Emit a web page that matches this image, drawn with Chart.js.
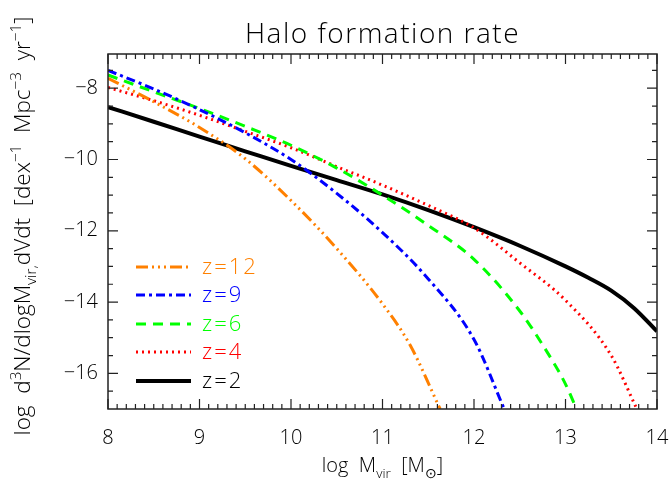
<!DOCTYPE html>
<html>
<head>
<meta charset="utf-8">
<script src="https://cdn.jsdelivr.net/npm/chart.js@4.4.1/dist/chart.umd.min.js"></script>
<style>
  html, body { margin: 0; padding: 0; background: #fff; }
</style>
</head>
<body>
<canvas id="chart" width="670" height="481"></canvas>
<script>
// halo formation rate, log d3N/dlogM dV dt, per redshift
var massZ12 = [8, 8.5, 9, 9.5, 10, 10.5, 11, 11.3, 11.63];
var rateZ12 = [-7.72, -8.38, -9.1, -9.98, -11.15, -12.5, -14.05, -15.2, -17];

var massZ9 = [8, 8.5, 9, 9.5, 10, 10.5, 11, 11.5, 12, 12.33];
var rateZ9 = [-7.5, -8.02, -8.6, -9.25, -10.0, -10.95, -12.05, -13.35, -15.05, -17];

var massZ6 = [8, 8.5, 9, 9.5, 10, 10.5, 11, 11.5, 12, 12.5, 12.75, 13, 13.12];
var rateZ6 = [-7.63, -8.1, -8.57, -9.07, -9.6, -10.24, -11.0, -11.85, -12.8, -14.25, -15.2, -16.3, -17];

var massZ4 = [8, 8.5, 9, 9.5, 10, 10.5, 11, 11.5, 12, 12.5, 13, 13.5, 13.78];
var rateZ4 = [-7.98, -8.35, -8.76, -9.21, -9.67, -10.2, -10.72, -11.29, -11.92, -12.9, -13.95, -15.5, -17];

var massZ2 = [8, 8.5, 9, 9.5, 10, 10.5, 11, 11.5, 12, 12.5, 13, 13.25, 13.5, 13.75, 14];
var rateZ2 = [-8.53, -8.94, -9.36, -9.77, -10.18, -10.58, -10.98, -11.42, -11.9, -12.42, -13.0, -13.32, -13.68, -14.17, -14.82];

var seriesLabels = ['z=12', 'z=9', 'z=6', 'z=4', 'z=2'];
var xTicks = [8, 9, 10, 11, 12, 13, 14];
var yTicks = [-16, -14, -12, -10, -8];

var FONT = '"Open Sans", "DejaVu Sans", sans-serif';

function pts(xs, ys) {
    return xs.map(function(x, i) { return {x: x, y: ys[i]}; });
}
function minus(v) {
    return v < 0 ? '\u2212' + Math.abs(v) : '' + v;
}

var styles = [
    {color: 'rgb(255,128,0)', width: 3, dash: [12, 4, 2, 4, 2, 4, 2, 4]},
    {color: 'rgb(0,0,255)',   width: 3, dash: [9, 4, 3, 4]},
    {color: 'rgb(0,255,0)',   width: 3, dash: [10, 7]},
    {color: 'rgb(255,0,0)',   width: 3, dash: [2, 4]},
    {color: 'rgb(0,0,0)',     width: 4, dash: []}
];
var sets = [pts(massZ12, rateZ12), pts(massZ9, rateZ9), pts(massZ6, rateZ6), pts(massZ4, rateZ4), pts(massZ2, rateZ2)];

var datasets = sets.map(function(d, i) {
    return {
        label: seriesLabels[i],
        data: d,
        borderColor: styles[i].color,
        borderWidth: styles[i].width,
        borderDash: styles[i].dash,
        borderCapStyle: 'butt',
        pointRadius: 0,
        fill: false,
        cubicInterpolationMode: 'monotone'
    };
});

// text with super/subscripts, parts = [[text, mode]], mode 1 sup, -1 sub
function richWidth(ctx, parts, size) {
    var w = 0;
    parts.forEach(function(p) {
        ctx.font = '300 ' + (p[1] ? size * 0.68 : size) + 'px ' + FONT;
        w += ctx.measureText(p[0]).width;
    });
    return w;
}
function drawRich(ctx, parts, x, y, size) {
    var cx = x - richWidth(ctx, parts, size) / 2;
    ctx.textAlign = 'left';
    ctx.textBaseline = 'alphabetic';
    parts.forEach(function(p) {
        var s = p[1] ? size * 0.68 : size;
        var dy = p[1] === 1 ? -size * 0.42 : (p[1] === -1 ? size * 0.28 : 0);
        ctx.font = '300 ' + s + 'px ' + FONT;
        ctx.fillText(p[0], cx, y + dy);
        cx += ctx.measureText(p[0]).width;
    });
}

var decorations = {
    id: 'decorations',
    afterDatasetsDraw: function(chart) {
        var ctx = chart.ctx, a = chart.chartArea;
        var xs = chart.scales.x, ys = chart.scales.y;
        ctx.save();
        ctx.strokeStyle = '#222';
        ctx.lineWidth = 1.5;
        ctx.setLineDash([]);
        ctx.strokeRect(a.left, a.top, a.right - a.left, a.bottom - a.top);
        ctx.lineWidth = 1.2;
        ctx.beginPath();
        // ticks point into the plot on all four sides
        for (var k = 0; k <= 60; k++) {
            var v = 8 + k / 10;
            var px = xs.getPixelForValue(v);
            var len = (k % 10 === 0) ? 10 : 5;
            ctx.moveTo(px, a.bottom); ctx.lineTo(px, a.bottom - len);
            ctx.moveTo(px, a.top); ctx.lineTo(px, a.top + len);
        }
        for (var j = -33; j <= -15; j++) {
            var yv = j / 2;
            var py = ys.getPixelForValue(yv);
            var ylen = (j % 4 === 0) ? 10 : 5;
            ctx.moveTo(a.left, py); ctx.lineTo(a.left + ylen, py);
            ctx.moveTo(a.right, py); ctx.lineTo(a.right - ylen, py);
        }
        ctx.stroke();
        ctx.restore();
    },
    afterDraw: function(chart) {
        var ctx = chart.ctx, a = chart.chartArea;
        ctx.save();
        ctx.fillStyle = '#000';
        ctx.font = '300 28px ' + FONT;
        ctx.letterSpacing = '1.5px';
        ctx.textAlign = 'center';
        ctx.textBaseline = 'alphabetic';
        ctx.fillText('Halo formation rate', (a.left + a.right) / 2, 43);

        // legend inside the plot
        var rows = [267, 295, 324, 352, 381];
        ctx.letterSpacing = '2px';
        datasets.forEach(function(ds, i) {
            ctx.strokeStyle = ds.borderColor;
            ctx.lineWidth = ds.borderWidth;
            ctx.lineCap = 'butt';
            ctx.setLineDash(ds.borderDash);
            ctx.beginPath();
            ctx.moveTo(136, rows[i]);
            ctx.lineTo(191, rows[i]);
            ctx.stroke();
            ctx.setLineDash([]);
            ctx.fillStyle = ds.borderColor;
            ctx.font = '300 22px ' + FONT;
            ctx.textAlign = 'left';
            ctx.textBaseline = 'middle';
            ctx.fillText(ds.label, 202, rows[i] + 1);
        });
        ctx.letterSpacing = '0px';

        ctx.fillStyle = '#000';
        drawRich(ctx, [['log  M', 0], ['vir', -1], ['  [M', 0], ['\u2299', -1], [']', 0]],
            (a.left + a.right) / 2, 472, 20);

        ctx.translate(30, 226);
        ctx.rotate(-Math.PI / 2);
        drawRich(ctx, [['log  d', 0], ['3', 1], ['N/dlogM', 0], ['vir,', -1], ['dVdt  [dex', 0],
            ['\u22121', 1], ['  Mpc', 0], ['\u22123', 1], ['  yr', 0], ['\u22121', 1], [']', 0]], 0, 0, 22.5);
        ctx.restore();
    }
};

var chart = new Chart(document.getElementById('chart'), {
    type: 'line',
    data: {datasets: datasets},
    options: {
        responsive: false,
        animation: false,
        layout: {padding: {top: 54, right: 13, left: 0, bottom: 0}},
        plugins: {legend: {display: false}, tooltip: {enabled: false}},
        scales: {
            x: {
                type: 'linear', min: 8, max: 14,
                afterBuildTicks: function(s) { s.ticks = xTicks.map(function(v) { return {value: v}; }); },
                afterFit: function(s) { s.height = 72; s.paddingLeft = 0; s.paddingRight = 0; },
                grid: {display: false, drawTicks: false},
                border: {display: false},
                ticks: {color: '#000', padding: 17, maxRotation: 0,
                        font: {family: FONT, size: 20, weight: 300}}
            },
            y: {
                type: 'linear', min: -17, max: -7.04,
                afterBuildTicks: function(s) { s.ticks = yTicks.map(function(v) { return {value: v}; }); },
                afterFit: function(s) { s.width = 108; s.paddingTop = 0; s.paddingBottom = 0; },
                grid: {display: false, drawTicks: false},
                border: {display: false},
                ticks: {color: '#000', padding: 10,
                        font: {family: FONT, size: 20, weight: 300},
                        callback: function(v) { return minus(v); }}
            }
        }
    },
    plugins: [decorations]
});
</script>
</body>
</html>
